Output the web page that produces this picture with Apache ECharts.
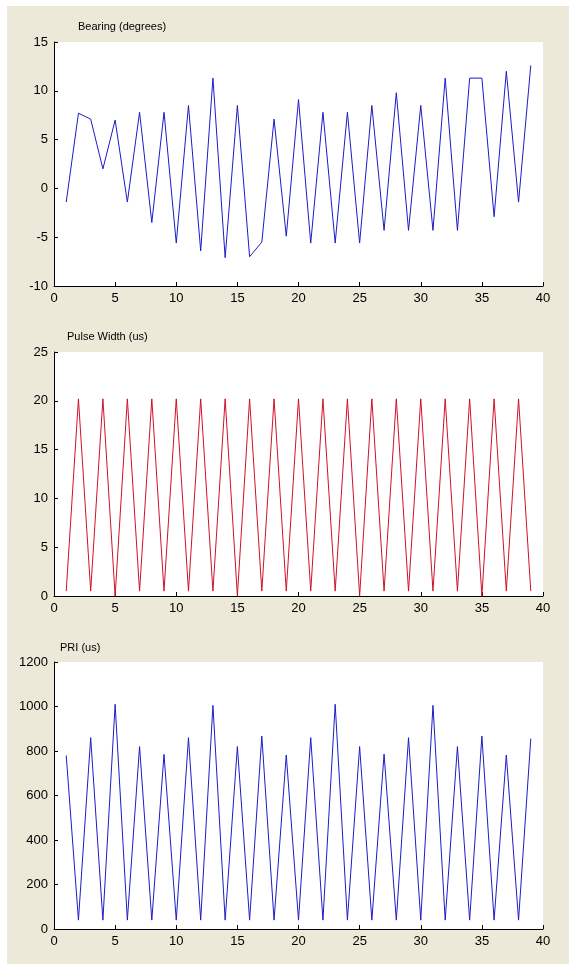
<!DOCTYPE html>
<html>
<head>
<meta charset="utf-8">
<title>Bearing / Pulse Width / PRI</title>
<script src="https://cdn.jsdelivr.net/npm/echarts@6/dist/echarts.min.js"></script>
<style>
  html, body { margin: 0; padding: 0; background: #fff; }
  #frame { position: absolute; left: 7px; top: 6px; right: 0; bottom: 0; background: #ECE9D8; }
  #main { position: absolute; left: 0; top: 0; width: 569px; height: 964px; }
</style>
</head>
<body>
<div id="frame"></div>
<div id="main"></div>
<script>
// pulse index
const pulseIndex = [1, 2, 3, 4, 5, 6, 7, 8, 9, 10, 11, 12, 13, 14, 15, 16, 17, 18, 19, 20,
  21, 22, 23, 24, 25, 26, 27, 28, 29, 30, 31, 32, 33, 34, 35, 36, 37, 38, 39]

// bearing (degrees)
const bearing = [-1.4, 7.7, 7.1, 2.0, 7.0, -1.4, 7.8, -3.5, 7.8, -5.6,
  8.5, -6.4, 11.3, -7.1, 8.5, -7.0, -5.5, 7.1, -4.9, 9.1,
  -5.6, 7.8, -5.6, 7.8, -5.6, 8.5, -4.3, 9.8, -4.3, 8.5,
  -4.3, 11.3, -4.3, 11.3, 11.3, -2.9, 12.0, -1.4, 12.6]

// pulse width (us)
const pulseWidth = [0.5, 20.2, 0.5, 20.2, 0, 20.2, 0.5, 20.2, 0.5, 20.2,
  0.5, 20.2, 0.5, 20.2, 0, 20.2, 0.5, 20.2, 0.5, 20.2,
  0.5, 20.2, 0.5, 20.2, 0, 20.2, 0.5, 20.2, 0.5, 20.2,
  0.5, 20.2, 0.5, 20.2, 0, 20.2, 0.5, 20.2, 0.5]

// PRI (us)
const pri = [780, 40, 860, 40, 1010, 40, 820, 40, 785, 40,
  860, 40, 1005, 40, 820, 40, 867, 40, 782, 40,
  860, 40, 1010, 40, 820, 40, 786, 40, 860, 40,
  1005, 40, 820, 40, 867, 40, 782, 40, 855]

const titles = ['Bearing (degrees)', 'Pulse Width (us)', 'PRI (us)']

const font = 'Liberation Sans'

let chart = echarts.init(document.getElementById('main'), null, { renderer: 'canvas' })

function pairs (ys) {
  return ys.map((y, i) => [pulseIndex[i], y])
}

function axisOf (type, idx, min, max, step) {
  return {
    type: 'value',
    gridIndex: idx,
    min: min,
    max: max,
    interval: step,
    axisLine: { show: true, onZero: false, lineStyle: { color: '#000', width: 1 } },
    axisTick: { show: true, inside: true, length: 4, lineStyle: { color: '#000' } },
    axisLabel: {
      color: '#000',
      fontSize: 13,
      fontFamily: font,
      margin: 6,
      showMinLabel: true,
      showMaxLabel: true,
      formatter: v => String(v)
    },
    splitLine: { show: false }
  }
}

function lineSeries (idx, ys, color) {
  return {
    type: 'line',
    xAxisIndex: idx,
    yAxisIndex: idx,
    data: pairs(ys),
    showSymbol: false,
    symbol: 'none',
    animation: false,
    lineStyle: { color: color, width: 1 }
  }
}

chart.setOption({
  backgroundColor: 'transparent',
  animation: false,
  title: [
    { text: titles[0], left: 78, top: 21 },
    { text: titles[1], left: 67, top: 331 },
    { text: titles[2], left: 60, top: 642 }
  ].map(t => Object.assign(t, {
    padding: 0,
    textStyle: { fontSize: 11, fontWeight: 'normal', color: '#000', fontFamily: font }
  })),
  grid: [
    { left: 54, top: 42, width: 489, height: 244 },
    { left: 54, top: 352, width: 489, height: 244 },
    { left: 54, top: 662, width: 489, height: 267 }
  ].map(g => Object.assign(g, { show: true, backgroundColor: '#fff', borderWidth: 0 })),
  xAxis: [
    axisOf('x', 0, 0, 40, 5),
    axisOf('x', 1, 0, 40, 5),
    axisOf('x', 2, 0, 40, 5)
  ],
  yAxis: [
    axisOf('y', 0, -10, 15, 5),
    axisOf('y', 1, 0, 25, 5),
    axisOf('y', 2, 0, 1200, 200)
  ],
  series: [
    lineSeries(0, bearing, '#1c1cc8'),
    lineSeries(1, pulseWidth, '#d0102a'),
    lineSeries(2, pri, '#1c1cc8')
  ]
})
</script>
</body>
</html>
